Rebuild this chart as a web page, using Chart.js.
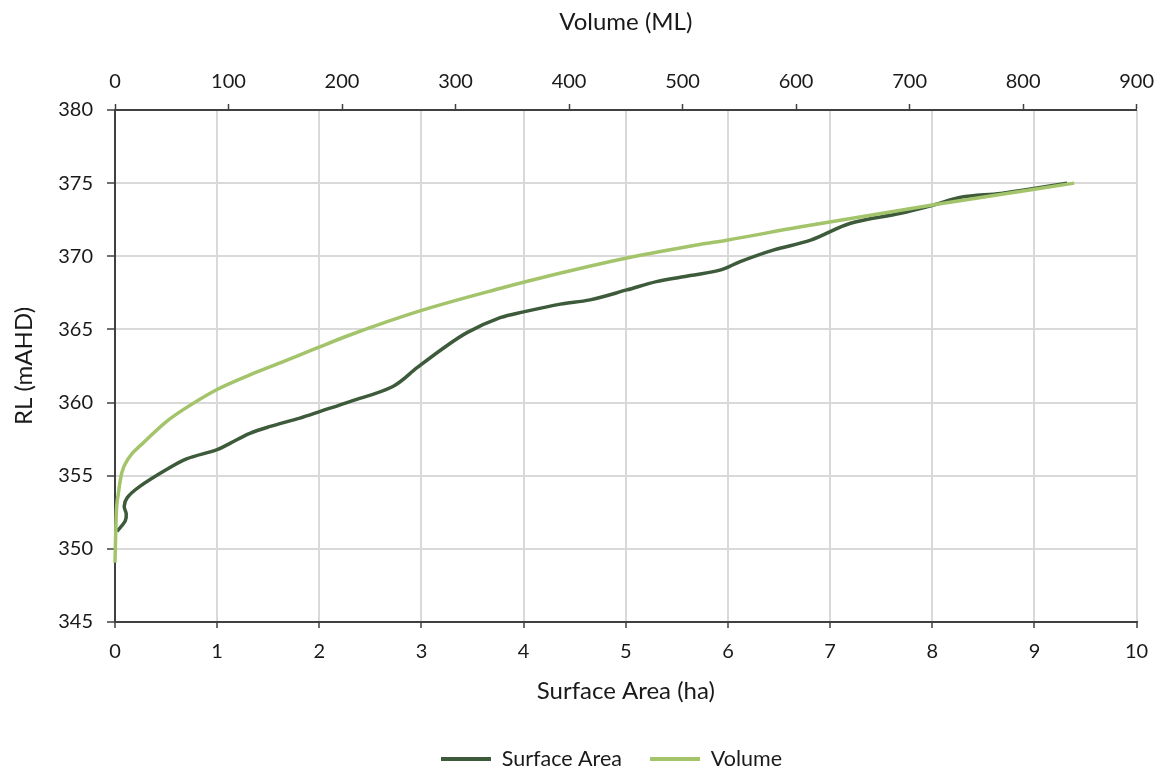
<!DOCTYPE html>
<html lang="en">
<head>
  <meta charset="UTF-8">
  <title>RL vs Surface Area and Volume</title>
  <style>
    html, body { margin: 0; padding: 0; background: #fff; }
    #wrap { width: 1164px; height: 773px; }
  </style>
</head>
<body>
<div id="wrap"><canvas id="storage"></canvas></div>

<script src="https://cdn.jsdelivr.net/npm/chart.js"></script>
<script>
// surface area curve (ha vs RL)
const areaHa = [0.02, 0.1, 0.11, 0.09, 0.12, 0.24, 0.5, 0.7, 1.0, 1.13, 1.32, 1.52, 1.81, 2.01, 2.3, 2.72, 2.96, 3.21, 3.45, 3.77, 4.0, 4.36, 4.65, 5.01, 5.3, 5.63, 5.93, 6.12, 6.45, 6.81, 7.2, 7.69, 8.01, 8.28, 8.67, 9.01, 9.32];
const areaRL = [351.2, 351.9, 352.4, 352.9, 353.5, 354.25, 355.4, 356.15, 356.78, 357.23, 357.9, 358.37, 358.94, 359.4, 360.07, 361.1, 362.4, 363.7, 364.8, 365.8, 366.2, 366.73, 367.02, 367.7, 368.27, 368.68, 369.07, 369.64, 370.44, 371.1, 372.26, 372.94, 373.5, 374.03, 374.3, 374.65, 375.0];

// volume curve (ML vs RL)
const volML = [0, 1, 3, 6, 12, 25, 46.1, 60.8, 89.5, 118.9, 148.2, 177.5, 206.9, 270, 339, 374, 450, 515, 539, 603, 720, 810, 845];
const volRL = [349.05, 352.2, 353.8, 355.2, 356.2, 357.25, 358.75, 359.55, 360.88, 361.9, 362.8, 363.72, 364.62, 366.3, 367.8, 368.5, 369.86, 370.8, 371.1, 372.0, 373.5, 374.58, 375.0];

const seriesNames = ["Surface Area", "Volume"];
const areaTicks = [0, 10, 1];
const volTicks = [0, 900, 100];
const rlTicks = [345, 380, 5];

const darkGreen = "#3d5a3a";
const lightGreen = "#a3c46b";
const axisCol = "#404040";
const gridCol = "#d9d9d9";
const textCol = "#1a1a1a";
const fontFam = "Lato, 'Open Sans', sans-serif";

function toPoints(xs, ys) {
  return xs.map(function (x, i) { return { x: x, y: ys[i] }; });
}

// nudge the legend right so it sits where the original had it
const legendShift = {
  id: "legendShift",
  afterLayout: function (chart) {
    chart.legend.left += 43;
    chart.legend.right += 43;
  },
};

new Chart(document.getElementById("storage"), {
  type: "line",
  plugins: [legendShift],
  data: {
    datasets: [
      {
        label: seriesNames[0],
        data: toPoints(areaHa, areaRL),
        xAxisID: "x",
        yAxisID: "y",
        borderColor: darkGreen,
        backgroundColor: darkGreen,
        borderWidth: 3.5,
        pointRadius: 0,
        tension: 0.35,
        clip: false,
        order: 1,
      },
      {
        label: seriesNames[1],
        data: toPoints(volML, volRL),
        xAxisID: "x2",
        yAxisID: "y",
        borderColor: lightGreen,
        backgroundColor: lightGreen,
        borderWidth: 3.5,
        pointRadius: 0,
        cubicInterpolationMode: "monotone",
        clip: false,
        order: 0,
      },
    ],
  },
  options: {
    responsive: true,
    maintainAspectRatio: false,
    animation: false,
    layout: { padding: { left: 0, right: 27, top: 0, bottom: -6.75 } },
    plugins: {
      tooltip: { enabled: false },
      legend: {
        position: "bottom",
        labels: {
          color: textCol,
          font: { family: fontFam, size: 21.5 },
          boxWidth: 50,
          boxHeight: 4,
          padding: 28,
          sort: function (a, b) { return a.datasetIndex - b.datasetIndex; },
          generateLabels: function (chart) {
            return Chart.defaults.plugins.legend.labels.generateLabels(chart).map(function (l) {
              l.lineWidth = 0;
              return l;
            });
          },
        },
      },
    },
    scales: {
      x: {
        type: "linear",
        position: "bottom",
        min: areaTicks[0],
        max: areaTicks[1],
        ticks: { stepSize: areaTicks[2], color: textCol, font: { family: fontFam, size: 20 }, padding: 12 },
        grid: { color: gridCol, lineWidth: 2, tickColor: axisCol, tickLength: 6, tickWidth: 1.5 },
        border: { color: axisCol, width: 2 },
        title: { display: true, text: "Surface Area (ha)", color: textCol, font: { family: fontFam, size: 24 }, padding: { top: 0, bottom: 14.85 } },
        afterFit: function (s) { s.height = 98.25; },
      },
      x2: {
        type: "linear",
        position: "top",
        min: volTicks[0],
        max: volTicks[1],
        ticks: { stepSize: volTicks[2], color: textCol, font: { family: fontFam, size: 20 }, padding: 10 },
        grid: { drawOnChartArea: false, tickColor: axisCol, tickLength: 6, tickWidth: 1.5 },
        border: { color: axisCol, width: 2 },
        title: { display: true, text: "Volume (ML)", color: textCol, font: { family: fontFam, size: 24 }, padding: { top: 7.6, bottom: 0 } },
        afterFit: function (s) { s.height = 110; },
      },
      y: {
        type: "linear",
        position: "left",
        min: rlTicks[0],
        max: rlTicks[1],
        ticks: { stepSize: rlTicks[2], color: textCol, font: { family: fontFam, size: 20 }, padding: 14 },
        grid: { color: gridCol, lineWidth: 2, tickColor: axisCol, tickLength: 8, tickWidth: 1.5 },
        border: { color: axisCol, width: 2 },
        title: { display: true, text: "RL (mAHD)", color: textCol, font: { family: fontFam, size: 24 }, padding: { top: 10, bottom: 0 } },
        afterFit: function (s) { s.width = 115; },
      },
    },
  },
});
</script>
</body>
</html>
